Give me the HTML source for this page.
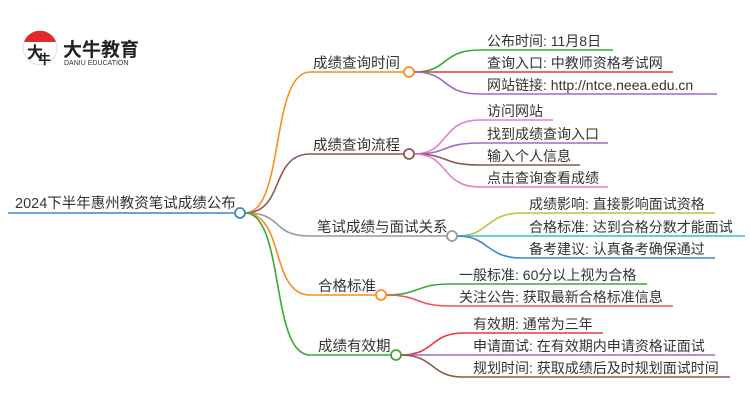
<!DOCTYPE html>
<html><head><meta charset="utf-8"><style>
body{margin:0;background:#fff;width:750px;height:410px;overflow:hidden}
text{font-family:"Liberation Sans","Noto Sans CJK SC",sans-serif;font-size:14px;fill:#333}
</style></head><body>
<svg width="750" height="410" viewBox="0 0 750 410" xmlns="http://www.w3.org/2000/svg">
<!-- logo -->
<circle cx="40" cy="48" r="17" fill="#fff" stroke="#ddd" stroke-width="1"/>
<path d="M24,42 A17,17 0 0 1 56,42 Z" fill="#e02a2a"/>
<text x="27" y="58" style="font-size:16px;font-weight:bold;fill:#222">大</text>
<text x="38" y="64" style="font-size:13px;font-weight:bold;fill:#222">牛</text>
<text x="63" y="56" style="font-size:19px;font-weight:bold;fill:#222">大牛教育</text>
<text x="64" y="65" style="font-size:7px;fill:#333">DANIU EDUCATION</text>

<g fill="none" stroke-width="1.6">
<line x1="8" y1="213" x2="235" y2="213" stroke="#3d86c6"/>
<path d="M245,213 C285,213 270,72 310,72 L404,72" stroke="#fb8c21"/>
<path d="M245,213 C285,213 270,154 310,154 L404,154" stroke="#8c5a4c"/>
<path d="M245,213 C285,213 270,236 310,236 L447,236" stroke="#999"/>
<path d="M245,213 C285,213 270,295 310,295 L376,295" stroke="#fb8c21"/>
<path d="M245,213 C285,213 270,355 310,355 L391,355" stroke="#3aaa35"/>
<path d="M414,72 C450,72 440,50 480,50 L613,50" stroke="#3aaa35"/>
<path d="M414,72 L673,72" stroke="#e8383d"/>
<path d="M414,72 C450,72 440,94 480,94 L717,94" stroke="#9b6dc9"/>
<path d="M414,154 C450,154 440,120 480,120 L553,120" stroke="#e57ec8"/>
<path d="M414,154 C450,154 440,143 480,143 L608,143" stroke="#9b6dc9"/>
<path d="M414,154 C450,154 440,165 480,165 L580,165" stroke="#8c5a4c"/>
<path d="M414,154 C450,154 440,187 480,187 L608,187" stroke="#e57ec8"/>
<path d="M457,236 C490,236 485,213 522,213 L715,213" stroke="#c0c236"/>
<path d="M457,236 L745,236" stroke="#2ec3da"/>
<path d="M457,236 C490,236 485,258 522,258 L715,258" stroke="#3d86c6"/>
<path d="M386,295 C420,295 415,284 450,284 L647,284" stroke="#3aaa35"/>
<path d="M386,295 C420,295 415,306 450,306 L673,306" stroke="#e8575c"/>
<path d="M401,355 C435,355 430,333 463,333 L603,333" stroke="#e8383d"/>
<path d="M401,355 L715,355" stroke="#9b6dc9"/>
<path d="M401,355 C435,355 430,377 463,377 L730,377" stroke="#8c5a4c"/>
</g>
<g fill="#fff" stroke-width="1.8">
<circle cx="240" cy="213" r="5" stroke="#3d86c6"/>
<circle cx="409" cy="72" r="5" stroke="#fb8c21"/>
<circle cx="409" cy="154" r="5" stroke="#8c5a4c"/>
<circle cx="452" cy="236" r="5" stroke="#999"/>
<circle cx="381" cy="295" r="5" stroke="#fb8c21"/>
<circle cx="396" cy="355" r="5" stroke="#3aaa35"/>
</g>
<text x="15" y="208" style="font-size:14.5px">2024下半年惠州教资笔试成绩公布</text>
<text x="313" y="68" style="font-size:14.5px">成绩查询时间</text>
<text x="313" y="150" style="font-size:14.5px">成绩查询流程</text>
<text x="317" y="232" style="font-size:14.5px">笔试成绩与面试关系</text>
<text x="318" y="291" style="font-size:14.5px">合格标准</text>
<text x="318" y="351" style="font-size:14.5px">成绩有效期</text>

<text x="487" y="46">公布时间: 11月8日</text>
<text x="487" y="68">查询入口: 中教师资格考试网</text>
<text x="487" y="90">网站链接: http://ntce.neea.edu.cn</text>
<text x="487" y="116">访问网站</text>
<text x="487" y="139">找到成绩查询入口</text>
<text x="487" y="161">输入个人信息</text>
<text x="487" y="183">点击查询查看成绩</text>
<text x="529" y="209">成绩影响: 直接影响面试资格</text>
<text x="529" y="232">合格标准: 达到合格分数才能面试</text>
<text x="529" y="254">备考建议: 认真备考确保通过</text>
<text x="459" y="280">一般标准: 60分以上视为合格</text>
<text x="459" y="302">关注公告: 获取最新合格标准信息</text>
<text x="473" y="329">有效期: 通常为三年</text>
<text x="473" y="351">申请面试: 在有效期内申请资格证面试</text>
<text x="473" y="373">规划时间: 获取成绩后及时规划面试时间</text>
</svg>
</body></html>
